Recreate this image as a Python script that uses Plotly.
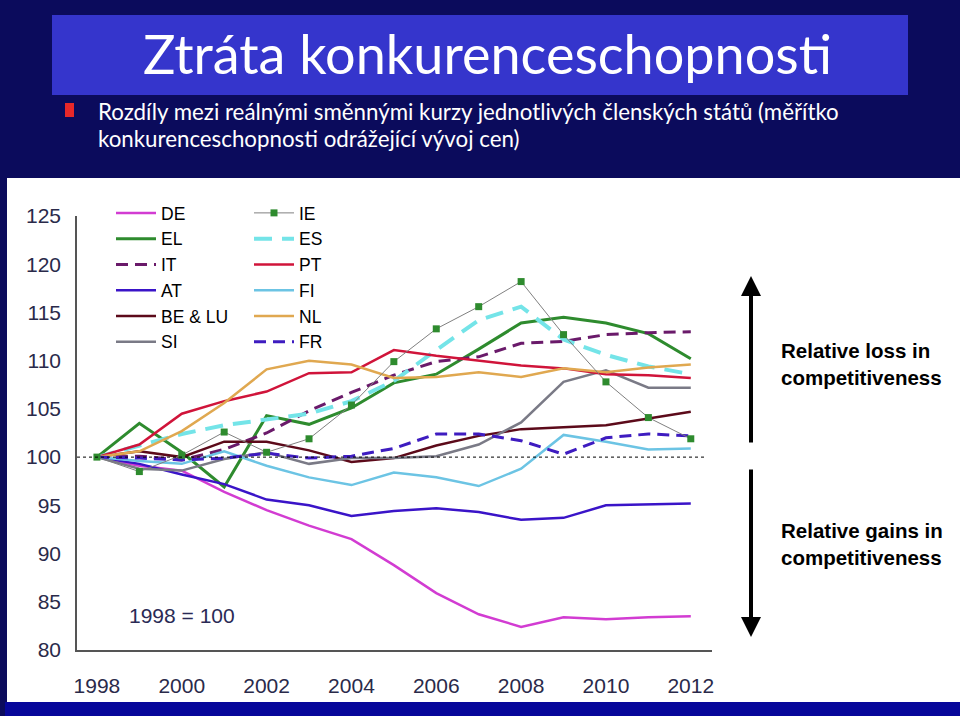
import plotly.graph_objects as go

# ---------------- data ----------------
years = list(range(1998, 2013))
DE    = [100, 99.1, 98.6, 96.4, 94.5, 92.9, 91.5, 88.8, 85.9, 83.7, 82.4, 83.4, 83.2, 83.4, 83.5]
EL    = [100, 103.5, 100.5, 96.9, 104.3, 103.4, 105.1, 107.7, 108.6, 111.2, 113.9, 114.5, 113.9, 112.8, 110.2]
IT    = [100, 100.1, 99.7, 100.8, 102.5, 104.8, 106.7, 108.5, 109.9, 110.4, 111.8, 112.0, 112.7, 112.9, 113.0]
AT    = [100, 99.3, 98.2, 97.2, 95.6, 95.0, 93.9, 94.4, 94.7, 94.3, 93.5, 93.7, 95.0, 95.1, 95.2]
BE_LU = [100, 100.6, 100.0, 101.6, 101.6, 100.7, 99.5, 99.9, 101.2, 102.2, 102.9, 103.1, 103.3, 104.0, 104.7]
SI    = [100, 98.8, 98.6, 99.8, 100.5, 99.3, 99.9, 99.9, 100.1, 101.3, 103.6, 107.8, 109.0, 107.2, 107.2]
IE    = [100, 98.5, 100.2, 102.6, 100.5, 101.9, 105.4, 109.9, 113.3, 115.6, 118.2, 112.7, 107.8, 104.1, 101.9]
ES    = [100, 101.2, 102.4, 103.3, 103.9, 104.5, 105.8, 107.9, 111.1, 114.2, 115.6, 112.2, 110.6, 109.4, 108.6]
PT    = [100, 101.3, 104.5, 105.8, 106.8, 108.7, 108.8, 111.1, 110.5, 110.0, 109.5, 109.2, 108.6, 108.5, 108.2]
FI    = [100, 99.6, 99.3, 100.6, 99.1, 97.9, 97.1, 98.4, 97.9, 97.0, 98.8, 102.3, 101.6, 100.8, 100.9]
NL    = [100, 100.6, 102.7, 105.6, 109.1, 110.0, 109.6, 108.2, 108.3, 108.8, 108.3, 109.2, 108.8, 109.3, 109.6]
FR    = [100, 99.9, 99.7, 99.9, 100.4, 99.9, 100.1, 100.9, 102.4, 102.4, 101.7, 100.3, 102.0, 102.4, 102.2]

y_ticks = [80, 85, 90, 95, 100, 105, 110, 115, 120, 125]
x_ticks = [1998, 2000, 2002, 2004, 2006, 2008, 2010, 2012]

title_text = "Ztráta konkurenceschopnosti"
sub_line1 = "Rozdíly mezi reálnými směnnými kurzy jednotlivých členských států (měřítko"
sub_line2 = "konkurenceschopnosti odrážející vývoj cen)"

# ---------------- layout geometry (pixels) ----------------
W, H = 960, 716
L, R, T, B = 77, 712, 216, 650          # plot area
PW, PH = R - L, B - T

def px(x):
    return (x - L) / PW

def py(y):
    return (B - y) / PH

AX_FONT = "Liberation Sans, Arial, sans-serif"
SLIDE_FONT = "Lato, Open Sans, sans-serif"

fig = go.Figure()

def add(name, y, color, width, dash="solid", legend="legend", rank=1, mode="lines", marker=None):
    kw = dict(x=years, y=y, name=name, mode=mode,
              line=dict(color=color, width=width, dash=dash),
              legend=legend, legendrank=rank, hoverinfo="skip")
    if marker:
        kw["marker"] = marker
    fig.add_trace(go.Scatter(**kw))

# draw order (IE on top)
add("DE", DE, "#D23CD2", 2.5, legend="legend", rank=1)
add("EL", EL, "#2E8B2E", 3, legend="legend", rank=2)
add("IT", IT, "#6A1A6A", 3, dash="12px,7px", legend="legend", rank=3)
add("AT", AT, "#3A14C8", 2.5, legend="legend", rank=4)
add("BE & LU", BE_LU, "#5C0A1A", 2.5, legend="legend", rank=5)
add("SI", SI, "#7A7A86", 2.5, legend="legend", rank=6)
add("ES", ES, "#74E4E8", 4, dash="18px,10px", legend="legend2", rank=2)
add("PT", PT, "#D0143A", 2.5, legend="legend2", rank=3)
add("FI", FI, "#6CC4E4", 2.5, legend="legend2", rank=4)
add("NL", NL, "#E0A850", 2.5, legend="legend2", rank=5)
add("FR", FR, "#3E1CC0", 3, dash="12px,7px", legend="legend2", rank=6)
add("IE", IE, "#808080", 1, legend="legend2", rank=1, mode="lines+markers",
    marker=dict(symbol="square", size=7, color="#2E8B2E"))

shapes = [
    # white chart panel
    dict(type="rect", xref="paper", yref="paper", x0=px(7), x1=px(962), y0=py(702), y1=py(178),
         fillcolor="white", line=dict(width=0), layer="below"),
    # bottom band
    dict(type="rect", xref="paper", yref="paper", x0=px(5), x1=px(962), y0=py(718), y1=py(702),
         fillcolor="#07079A", line=dict(width=0), layer="below"),
    # title box
    dict(type="rect", xref="paper", yref="paper", x0=px(52), x1=px(908), y0=py(95), y1=py(15),
         fillcolor="#3535CC", line=dict(width=0), layer="below"),
    # bullet
    dict(type="rect", xref="paper", yref="paper", x0=px(65), x1=px(74), y0=py(117), y1=py(103),
         fillcolor="#E8282A", line=dict(width=0), layer="below"),
    # reference line 100
    dict(type="line", xref="x", yref="y", x0=1997.53, x1=2012.38, y0=100, y1=100,
         line=dict(color="black", width=1, dash="3px,3px"), layer="above"),
]

annotations = [
    dict(text=title_text, x=px(487), y=py(53), xref="paper", yref="paper", showarrow=False,
         xanchor="center", yanchor="middle", font=dict(family=SLIDE_FONT, size=54, color="white")),
    dict(text=sub_line1, x=px(96), y=py(111), xref="paper", yref="paper", showarrow=False,
         xanchor="left", yanchor="middle", font=dict(family=SLIDE_FONT, size=22.3, color="white")),
    dict(text=sub_line2, x=px(96), y=py(138), xref="paper", yref="paper", showarrow=False,
         xanchor="left", yanchor="middle", font=dict(family=SLIDE_FONT, size=22.3, color="white")),
    dict(text="1998 = 100", x=px(127), y=py(615), xref="paper", yref="paper", showarrow=False,
         xanchor="left", yanchor="middle", font=dict(family=AX_FONT, size=21, color="#2A2A55")),
    dict(text="<b>Relative loss in<br>competitiveness</b>", x=px(779), y=py(364), xref="paper", yref="paper",
         showarrow=False, xanchor="left", yanchor="middle", align="left",
         font=dict(family=AX_FONT, size=20.5, color="black")),
    dict(text="<b>Relative gains in<br>competitiveness</b>", x=px(779), y=py(544), xref="paper", yref="paper",
         showarrow=False, xanchor="left", yanchor="middle", align="left",
         font=dict(family=AX_FONT, size=20.5, color="black")),
    # arrows
    dict(text="", x=px(751), y=py(276), xref="paper", yref="paper", showarrow=True,
         ax=0, ay=168, arrowhead=2, arrowsize=1, arrowwidth=4, arrowcolor="black"),
    dict(text="", x=px(751), y=py(637), xref="paper", yref="paper", showarrow=True,
         ax=0, ay=-169, arrowhead=2, arrowsize=1, arrowwidth=4, arrowcolor="black"),
]

legend_common = dict(orientation="v", xanchor="left", yanchor="top", bgcolor="rgba(0,0,0,0)",
                     font=dict(family=AX_FONT, size=17.5, color="black"), itemwidth=40,
                     traceorder="normal")

fig.update_layout(
    width=W, height=H,
    margin=dict(l=L, r=W - R, t=T, b=H - B, autoexpand=False),
    paper_bgcolor="#0B0B5C",
    plot_bgcolor="rgba(0,0,0,0)",
    showlegend=True,
    legend=dict(x=px(111), y=py(195), **legend_common),
    legend2=dict(x=px(249), y=py(195), **legend_common),
    xaxis=dict(range=[1997.53, 2012.5], tickvals=x_ticks, ticktext=[str(v) for v in x_ticks],
               showgrid=False, zeroline=False, showline=True, linecolor="#555555", linewidth=1.5,
               ticks="", ticklabelstandoff=16,
               tickfont=dict(family=AX_FONT, size=21, color="#2A2A4A")),
    yaxis=dict(range=[80, 125], tickvals=y_ticks, ticktext=[str(v) for v in y_ticks],
               showgrid=False, zeroline=False, showline=True, linecolor="#555555", linewidth=1.5,
               ticks="", ticklabelstandoff=10,
               tickfont=dict(family=AX_FONT, size=21, color="#2A2A4A")),
    shapes=shapes,
    annotations=annotations,
)

fig.write_html("out.html",
               config={"displayModeBar": False},
               post_script="document.body.style.margin='0';document.body.style.overflow='hidden';")
